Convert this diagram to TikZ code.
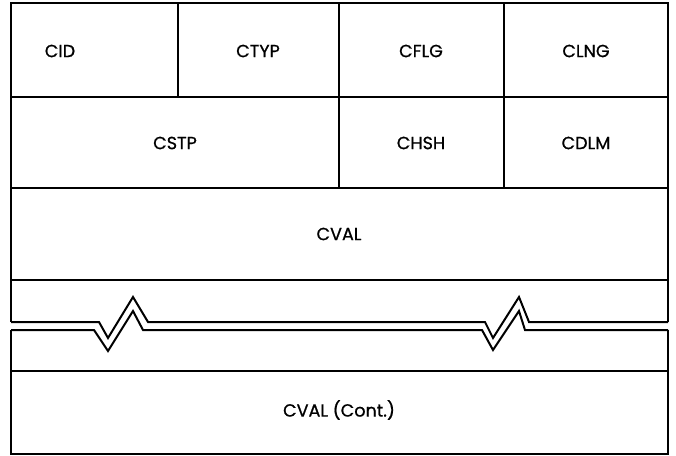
\documentclass[tikz,border=0pt]{standalone}
\usepackage{fontspec}
\setmainfont{Poppins}[FakeBold=0.8]
\usepackage{tikz}

\begin{document}
\begin{tikzpicture}[x=0.5pt,y=-0.5pt,line width=1pt,font=\fontsize{8.8}{10}\selectfont]
\useasboundingbox (0,0) rectangle (676,456);
\begin{scope}
    % upper block
    \draw (11,322) -- (11,3) -- (668,3) -- (668,322);
    \foreach \y in {97,188,280} {
        \draw (11,\y) -- (668,\y);
    }
    \draw (178,3) -- (178,97);
    \draw (339,3) -- (339,188);
    \draw (504,3) -- (504,188);
    % break
    \draw (11,322) -- (99,322) -- (108,338) -- (133,297) -- (148,322)
        -- (485,322) -- (493,338) -- (519,297) -- (529,322) -- (668,322);
    \draw (11,330) -- (94,330) -- (108,351) -- (133,311) -- (143,330)
        -- (482,330) -- (493,350) -- (519,311) -- (525,330) -- (668,330);
    % lower block
    \draw (11,330) -- (11,454) -- (668,454) -- (668,330);
    \draw (11,371) -- (668,371);
    \foreach \x/\y/\nm/\lab in {60/51/cid/CID,258/51/ctyp/CTYP,421/51/cflg/CFLG,586/51/clng/CLNG,
        175/143/cstp/CSTP,421/143/chsh/CHSH,586/143/cdlm/CDLM,
        339/234/cval/CVAL,339/410/cvalc/CVAL (Cont.)} {
        \node (\nm) at (\x,\y) {\lab};
    }
\end{scope}
\end{tikzpicture}
\end{document}
